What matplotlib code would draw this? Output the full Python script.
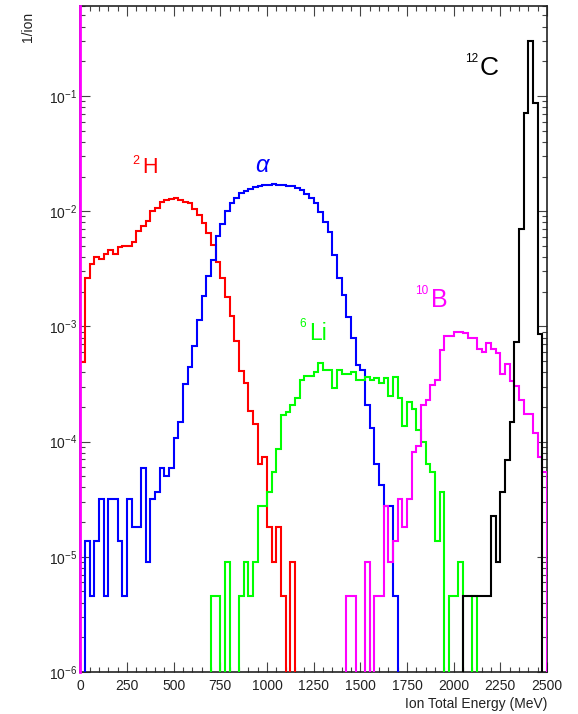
import numpy as np
import matplotlib
matplotlib.use("Agg")
import matplotlib.pyplot as plt
from matplotlib.ticker import LogLocator, MultipleLocator, FuncFormatter, NullFormatter

plt.rcParams['font.family'] = ['Liberation Sans', 'DejaVu Sans']
plt.rcParams['mathtext.fontset'] = 'custom'
plt.rcParams['mathtext.rm'] = 'Liberation Sans'
plt.rcParams['mathtext.it'] = 'Liberation Sans:italic'
plt.rcParams['mathtext.bf'] = 'Liberation Sans:bold'
plt.rcParams['mathtext.sf'] = 'Liberation Sans'

# ---------------- data (per-ion yield in 25 MeV bins, 0..2500 MeV) ----------------
bin_width = 25
energy_edges = np.arange(0, 2500 + bin_width, bin_width)

h2 = ([4.91e-4, 2.65e-3, 3.46e-3, 4.03e-3, 3.82e-3, 4.23e-3, 4.58e-3, 4.23e-3, 4.84e-3, 4.94e-3,
       5.00e-3, 5.43e-3, 6.70e-3, 7.45e-3, 8.17e-3, 9.98e-3, 1.07e-2, 1.21e-2, 1.25e-2, 1.265e-2,
       1.29e-2, 1.25e-2, 1.21e-2, 1.17e-2, 1.04e-2, 9.27e-3, 7.85e-3, 6.50e-3, 5.09e-3, 3.65e-3,
       2.65e-3, 1.79e-3, 1.24e-3, 7.46e-4, 4.10e-4, 3.23e-4, 1.86e-4, 1.41e-4, 6.37e-5, 7.34e-5,
       1.83e-5, 9.1e-6, 1.83e-5, 4.6e-6, 0, 9.1e-6] + [0] * 54)

alpha = ([0, 1.37e-5, 4.6e-6, 1.37e-5, 3.2e-5, 4.6e-6, 3.2e-5, 3.2e-5, 1.37e-5, 4.6e-6,
          3.2e-5, 1.83e-5, 1.83e-5, 5.94e-5, 9.1e-6, 3.2e-5, 3.66e-5, 5.94e-5, 5.03e-5, 5.94e-5,
          1.07e-4, 1.47e-4, 3.16e-4, 4.47e-4, 6.70e-4, 1.13e-3, 1.84e-3, 2.72e-3, 3.77e-3, 6.10e-3,
          7.71e-3, 9.98e-3, 1.17e-2, 1.31e-2, 1.43e-2, 1.50e-2, 1.57e-2, 1.61e-2, 1.65e-2, 1.69e-2,
          1.70e-2, 1.72e-2, 1.70e-2, 1.69e-2, 1.67e-2, 1.64e-2, 1.59e-2, 1.53e-2, 1.41e-2, 1.29e-2,
          1.17e-2, 9.9e-3, 8.11e-3, 6.64e-3, 4.17e-3, 2.62e-3, 1.87e-3, 1.21e-3, 7.88e-4, 4.62e-4,
          4.19e-4, 2.08e-4, 1.30e-4, 6.4e-5, 4.2e-5, 2.74e-5, 2.74e-5, 4.6e-6] + [0] * 32)

li6 = ([0] * 28 +
       [4.6e-6, 4.6e-6, 0, 9.1e-6, 0, 0, 4.6e-6, 9.1e-6, 4.6e-6, 9.1e-6,
        2.74e-5, 2.74e-5, 3.66e-5, 5.48e-5, 8.7e-5, 1.70e-4, 1.81e-4, 2.08e-4, 2.39e-4, 3.43e-4,
        3.71e-4, 3.71e-4, 4.05e-4, 4.84e-4, 4.19e-4, 4.19e-4, 2.90e-4, 4.19e-4, 3.86e-4, 3.86e-4,
        4.0e-4, 3.43e-4, 3.43e-4, 3.66e-4, 3.43e-4, 3.55e-4, 3.2e-4, 3.55e-4, 2.50e-4, 3.66e-4,
        2.38e-4, 1.37e-4, 2.22e-4, 1.91e-4, 1.26e-4, 9.98e-5, 6.4e-5, 5.48e-5, 1.37e-5, 3.66e-5,
        0, 4.6e-6, 4.6e-6, 9.1e-6, 0, 0, 4.6e-6] + [0] * 15)

b10 = ([0] * 57 +
       [4.6e-6, 4.6e-6, 0, 0, 9.1e-6, 0, 4.6e-6, 4.6e-6, 2.74e-5, 9.1e-6,
        1.37e-5, 3.2e-5, 1.83e-5, 3.2e-5, 8.16e-5, 9.16e-5, 2.08e-4, 2.30e-4, 3.10e-4, 3.43e-4,
        6.24e-4, 8.26e-4, 8.26e-4, 8.89e-4, 8.89e-4, 8.76e-4, 7.98e-4, 7.98e-4, 6.37e-4, 6.03e-4,
        7.13e-4, 6.37e-4, 5.91e-4, 3.86e-4, 4.69e-4, 3.38e-4, 3.06e-4, 2.30e-4, 1.74e-4, 1.74e-4,
        1.18e-4, 7.34e-5, 5.48e-5])

c12 = ([0] * 82 + [4.6e-6] * 6 +
       [2.28e-5, 9.1e-6, 3.66e-5, 6.92e-5, 1.49e-4, 7.36e-4, 6.97e-3, 7.08e-2, 0.302, 8.65e-2,
        8.59e-4, 0])

series = [
    (h2, '#ff0000'),
    (alpha, '#0000ff'),
    (li6, '#00ff00'),
    (b10, '#ff00ff'),
    (c12, '#000000'),
]

# ---------------- figure ----------------
W, H = 578, 714
fig = plt.figure(figsize=(W / 100, H / 100), dpi=100)
ax_l, ax_r, ax_t, ax_b = 80.3, 547.0, 6.0, 672.0
ax = fig.add_axes([ax_l / W, 1 - ax_b / H, (ax_r - ax_l) / W, (ax_b - ax_t) / H])
ax.set_yscale('log')
ax.set_xlim(0, 2500)
ax.set_ylim(1e-6, 0.604)

floor = 1e-9
for vals, col in series:
    v = np.asarray(vals, dtype=float)
    v = np.where(v > 0, v, floor)
    ax.stairs(v, energy_edges, baseline=floor, color=col, lw=1.5, zorder=3)

# magenta line along the left edge
ax.axvline(0, color='#ff00ff', lw=2.0, zorder=6, clip_on=False)

for s in ax.spines.values():
    s.set_linewidth(1.2)
    s.set_color('#222222')

ax.xaxis.set_major_locator(MultipleLocator(250))
ax.xaxis.set_minor_locator(MultipleLocator(50))
ax.yaxis.set_major_locator(LogLocator(base=10, numticks=20))
ax.yaxis.set_minor_locator(LogLocator(base=10, subs=np.arange(2, 10), numticks=20))
ax.yaxis.set_minor_formatter(NullFormatter())
ax.yaxis.set_major_formatter(FuncFormatter(
    lambda v, p: r'$\mathregular{10^{%d}}$' % int(round(np.log10(v)))))

ax.tick_params(which='both', direction='in', top=True, right=True,
               color='#444444', width=0.8, labelsize=10, labelcolor='#222222')
ax.tick_params(which='major', length=7)
ax.tick_params(which='minor', length=3.5)
ax.tick_params(axis='x', which='both', pad=5)
ax.tick_params(axis='y', which='both', pad=2)

fig.text(28 / W, 1 - 12 / H, '1/ion', rotation=90, ha='center', va='top',
         fontsize=10, color='#222222')
fig.text(547 / W, 1 - 704 / H, 'Ion Total Energy (MeV)', ha='right', va='center',
         fontsize=10, color='#222222')

def label(x_sup, y_sup, sup, x_main, y_main, main, color, fs_sup, fs_main):
    fig.text(x_sup / W, 1 - y_sup / H, sup, color=color, fontsize=fs_sup,
             ha='left', va='baseline')
    fig.text(x_main / W, 1 - y_main / H, main, color=color, fontsize=fs_main,
             ha='left', va='baseline')

label(132, 164, '2', 142, 173, 'H', '#ff0000', 9, 15.5)
fig.text(263 / W, 1 - 172 / H, r'$\alpha$', color='#0000ff', fontsize=17,
         ha='center', va='baseline')
label(299, 327, '6', 309, 340, 'Li', '#00ff00', 8.5, 16.5)
label(415, 294, '10', 431, 307, 'B', '#ff00ff', 8.5, 18)
label(465, 62, '12', 480, 75, 'C', '#000000', 8.5, 19)

fig.savefig('out.png', dpi=100)
